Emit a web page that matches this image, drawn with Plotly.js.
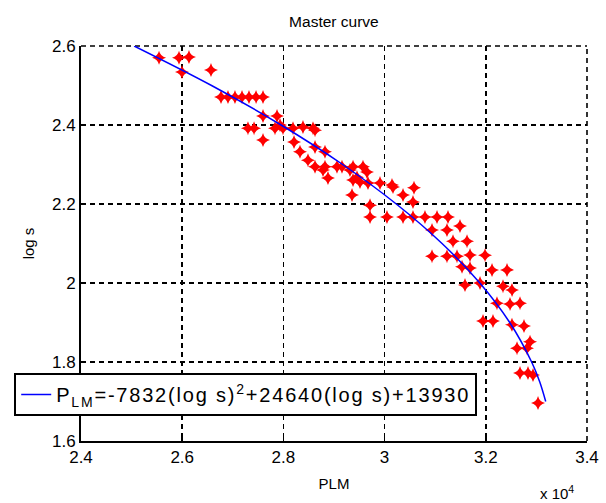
<!DOCTYPE html>
<html>
<head>
<meta charset="utf-8">
<script src="https://cdn.plot.ly/plotly-3.0.1.min.js"></script>
<style>
html,body{margin:0;padding:0;background:#fff;}
#chart{width:606px;height:503px;}
text.legendtext{letter-spacing:1.8px;}
</style>
</head>
<body>
<div id="chart"></div>
<script>
// Measured data: PLM (x) and log s (y)
const plmPoints = [
  25542, 25937, 26134, 25996, 26569,
  26767, 26905, 27043, 27182, 27320, 27459, 27597,
  27597, 27874, 27300, 27420, 27597, 27834, 27933, 27992,
  28190, 28387, 28585, 28625, 28210, 28328, 28486, 28625,
  28625, 28822, 28783, 28822, 28881, 29059, 29158, 29316,
  29376, 29573, 29652, 29455, 29376, 29514, 29672, 29909,
  30146, 30166, 29356, 29712, 29712, 30364, 30581, 30561,
  30047, 30364, 30561, 30798, 31036, 31253, 30937, 31233,
  31490, 31352, 31629, 30937, 31233, 31431, 31688, 31985,
  31530, 31688, 32123, 32419, 31589, 31886, 32340, 32518,
  32221, 32478, 32676, 31945, 32142, 32518, 32755, 32874,
  32617, 32814, 32676, 32834, 32933, 33032
];
const logSPoints = [
  2.570, 2.570, 2.572, 2.534, 2.539,
  2.471, 2.471, 2.471, 2.471, 2.471, 2.471, 2.471,
  2.423, 2.423, 2.392, 2.392, 2.362, 2.392, 2.400, 2.392,
  2.392, 2.395, 2.392, 2.387, 2.357, 2.332, 2.311, 2.294,
  2.344, 2.332, 2.286, 2.294, 2.266, 2.294, 2.294, 2.286,
  2.294, 2.294, 2.281, 2.268, 2.261, 2.256, 2.253, 2.253,
  2.248, 2.243, 2.223, 2.197, 2.167, 2.223, 2.241, 2.205,
  2.167, 2.167, 2.167, 2.167, 2.167, 2.167, 2.134, 2.134,
  2.144, 2.106, 2.106, 2.068, 2.068, 2.068, 2.071, 2.070,
  2.041, 2.038, 2.033, 2.033, 1.995, 2.000, 1.992, 1.982,
  1.949, 1.947, 1.949, 1.904, 1.904, 1.894, 1.891, 1.851,
  1.835, 1.835, 1.772, 1.772, 1.767, 1.696
];
// Fitted master curve, read at regular log s values
const fitLogS = [1.70, 1.75, 1.80, 1.90, 2.00, 2.10, 2.20, 2.30, 2.40, 2.50, 2.60];
const fitPLM  = [33184, 33065, 32906, 32473, 31882, 31135, 30231, 29171, 27954, 26580, 25050];
// Tick labels
const xTickVals = [24000, 26000, 28000, 30000, 32000, 34000];
const xTickText = ['2.4', '2.6', '2.8', '3', '3.2', '3.4'];
const yTickVals = [1.6, 1.8, 2.0, 2.2, 2.4, 2.6];
const yTickText = ['1.6', '1.8', '2', '2.2', '2.4', '2.6'];
const legendText = 'P<sub>LM</sub>=-7832(log s)<sup>2</sup>+24640(log s)+13930';

const font = 'Arial, "Liberation Sans", sans-serif';

const traces = [
  {
    x: plmPoints, y: logSPoints, type: 'scatter', mode: 'markers',
    marker: {symbol: 'star-diamond', size: 10, color: '#ff0000', line: {width: 0}},
    showlegend: false, hoverinfo: 'skip'
  },
  {
    x: fitPLM, y: fitLogS, type: 'scatter', mode: 'lines',
    line: {color: '#0000ff', width: 1.5, shape: 'spline'},
    name: legendText
  }
];

const dashStyle = '5px,4px';
const axisCommon = {
  showline: true, linecolor: '#000', linewidth: 2,
  ticks: 'inside', ticklen: 5, tickwidth: 1.5, tickcolor: '#000',
  showgrid: true, gridcolor: '#000', gridwidth: 1.6, griddash: dashStyle,
  zeroline: false, mirror: false,
  tickfont: {family: font, size: 17, color: '#000'}
};

const layout = {
  width: 606, height: 503,
  margin: {l: 81, r: 19, t: 46, b: 62, pad: 0},
  paper_bgcolor: '#fff', plot_bgcolor: '#fff',
  title: {text: 'Master curve', font: {family: font, size: 15.5, color: '#000'}, x: 0.551, xanchor: 'center', y: 0.957, yanchor: 'middle'},
  xaxis: Object.assign({}, axisCommon, {
    range: [24000, 34000], tickvals: xTickVals, ticktext: xTickText,
    title: {text: 'PLM', font: {family: font, size: 15, color: '#000'}, standoff: 12}
  }),
  yaxis: Object.assign({}, axisCommon, {
    range: [1.6, 2.6], tickvals: yTickVals, ticktext: yTickText,
    title: {text: 'log s', font: {family: font, size: 15, color: '#000'}, standoff: 14}
  }),
  showlegend: true,
  legend: {
    x: -0.132, y: 0.172, xanchor: 'left', yanchor: 'top',
    bgcolor: '#fff', bordercolor: '#000', borderwidth: 2,
    font: {family: font, size: 20, color: '#000'}
  },
  shapes: [
    {type: 'line', xref: 'paper', yref: 'paper', x0: 0, x1: 1, y0: 1, y1: 1,
     line: {color: '#000', width: 1.6, dash: dashStyle}, layer: 'below'},
    {type: 'line', xref: 'paper', yref: 'paper', x0: 1, x1: 1, y0: 0, y1: 1,
     line: {color: '#000', width: 1.6, dash: dashStyle}, layer: 'below'}
  ],
  annotations: [
    {xref: 'paper', yref: 'paper', x: 0.94, y: -0.1, xanchor: 'center', yanchor: 'top',
     text: 'x 10<sup>4</sup>', showarrow: false, font: {family: font, size: 15, color: '#000'}}
  ]
};

Plotly.newPlot('chart', traces, layout, {displayModeBar: false, staticPlot: true});
</script>
</body>
</html>
